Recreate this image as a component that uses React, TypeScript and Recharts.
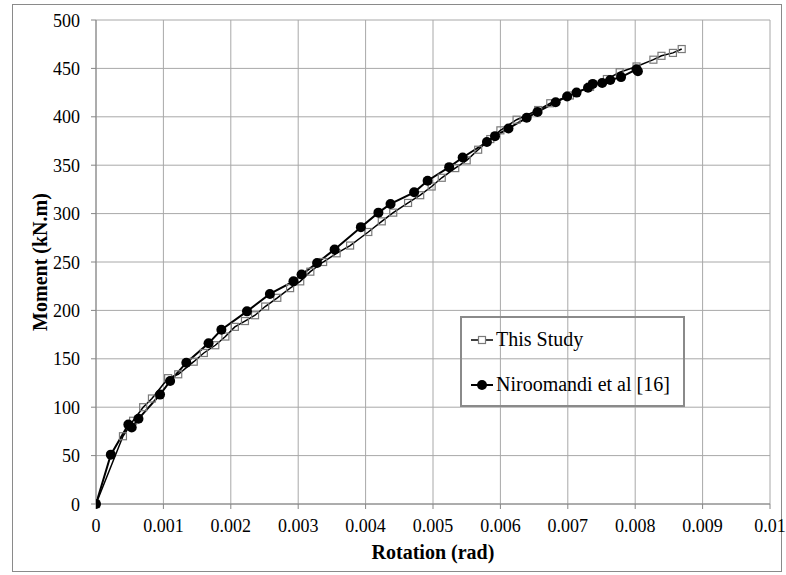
import React from "react";
import { LineChart, Line, XAxis, YAxis, CartesianGrid, Label } from "recharts";

// Moment-rotation curve, this study (open squares)
const studyRotation = [
  0, 0.0004, 0.00055, 0.0007, 0.00083, 0.00107, 0.00122, 0.00145, 0.0016, 0.00177,
  0.00192, 0.00206, 0.00221, 0.00236, 0.00251, 0.00269, 0.00288, 0.00303, 0.00318, 0.00337,
  0.00357, 0.00377, 0.00404, 0.00424, 0.00441, 0.00463, 0.00481, 0.00498, 0.00513, 0.00533,
  0.0055, 0.00567, 0.00585, 0.006, 0.00624, 0.00656, 0.00674, 0.00703, 0.00733, 0.00758,
  0.00777, 0.00802, 0.00827, 0.00839, 0.00856, 0.00869,
];
const studyMoment = [
  0, 70, 86, 100, 109, 130, 134, 147, 156, 164,
  173, 183, 189, 195, 204, 213, 223, 230, 240, 250,
  259, 267, 281, 292, 301, 311, 319, 328, 337, 347,
  355, 366, 377, 386, 397, 407, 414, 422, 431, 439,
  446, 452, 459, 463, 466, 470,
];

// Niroomandi et al [16] (filled circles)
const refRotation = [
  0, 0.00022, 0.00048, 0.00053, 0.00063, 0.00095, 0.0011, 0.00134, 0.00167, 0.00186,
  0.00224, 0.00258, 0.00293, 0.00305, 0.00328, 0.00354, 0.00393, 0.00419, 0.00437, 0.00472,
  0.00492, 0.00524, 0.00544, 0.0058, 0.00592, 0.00612, 0.00639, 0.00655, 0.00682, 0.00699,
  0.00713, 0.0073, 0.00737, 0.00751, 0.00763, 0.00779, 0.00802, 0.00804,
];
const refMoment = [
  0, 51, 82, 79, 88, 113, 127, 146, 166, 180,
  199, 217, 230, 237, 249, 263, 286, 301, 310, 322,
  334, 348, 358, 374, 380, 388, 399, 405, 415, 421,
  425, 430, 434, 435, 438, 441, 449, 447,
];

const xTicks = [0, 0.001, 0.002, 0.003, 0.004, 0.005, 0.006, 0.007, 0.008, 0.009, 0.01];
const yTicks = [0, 50, 100, 150, 200, 250, 300, 350, 400, 450, 500];

const studyData = studyRotation.map((r, i) => ({ rot: r, moment: studyMoment[i] }));
const refData = refRotation.map((r, i) => ({ rot: r, moment: refMoment[i] }));

const FONT = '"Liberation Serif", "Times New Roman", serif';
const AXIS = "#868686";

const SquareDot = (props: any) => {
  const { cx, cy, index } = props;
  if (cx == null || cy == null) return <g key={index} />;
  return (
    <rect key={index} x={cx - 3.5} y={cy - 3.5} width={7} height={7} fill="none" stroke="#7a7a7a" strokeWidth={1.2} />
  );
};

const XTick = (props: any) => {
  const { x, y, payload } = props;
  return (
    <text x={x} y={y + 13} textAnchor="middle" fontFamily={FONT} fontSize={18} fill="#000">
      {String(payload.value)}
    </text>
  );
};

const YTick = (props: any) => {
  const { x, y, payload } = props;
  return (
    <text x={x} y={y + 6.5} textAnchor="end" fontFamily={FONT} fontSize={18} fill="#000">
      {String(payload.value)}
    </text>
  );
};

const LegendBox = () => (
  <div
    style={{
      position: "absolute",
      left: 460,
      top: 316,
      width: 221,
      height: 87,
      border: "2px solid #8a8a8a",
      fontFamily: FONT,
      fontSize: 20,
      color: "#000",
    }}
  >
    <div style={{ position: "absolute", left: 8, top: 10, display: "flex", alignItems: "center" }}>
      <svg width={24} height={14}>
        <line x1={1} y1={7} x2={23} y2={7} stroke="#000" strokeWidth={1.5} />
        <rect x={8.5} y={3.5} width={7} height={7} fill="#fff" stroke="#7a7a7a" strokeWidth={1.2} />
      </svg>
      <span style={{ marginLeft: 2 }}>This Study</span>
    </div>
    <div style={{ position: "absolute", left: 8, top: 55, display: "flex", alignItems: "center" }}>
      <svg width={24} height={14}>
        <line x1={1} y1={7} x2={23} y2={7} stroke="#000" strokeWidth={2} />
        <circle cx={12} cy={7} r={5} fill="#000" />
      </svg>
      <span style={{ marginLeft: 2 }}>Niroomandi et al [16]</span>
    </div>
  </div>
);

export default function App() {
  return (
    <div style={{ position: "absolute", left: 0, top: 0, width: 786, height: 575, background: "#fff" }}>
      <div
        style={{
          position: "absolute",
          left: 12,
          top: 4,
          width: 768,
          height: 566,
          border: "1px solid #8a8a8a",
        }}
      />
      <LineChart
        width={786}
        height={575}
        margin={{ top: 20, right: 16, bottom: 41, left: 36 }}
        style={{ fontFamily: FONT }}
      >
        <CartesianGrid stroke="#a8a8a8" strokeWidth={1} />
        <XAxis
          type="number"
          dataKey="rot"
          domain={[0, 0.01]}
          ticks={xTicks}
          height={30}
          stroke={AXIS}
          tickSize={5}
          tickMargin={10}
          tick={<XTick />}
          allowDataOverflow
        >
          <Label
            content={() => (
              <text x={433} y={559} textAnchor="middle" fontFamily={FONT} fontSize={20} fontWeight="bold" fill="#000">
                Rotation (rad)
              </text>
            )}
          />
        </XAxis>
        <YAxis
          type="number"
          dataKey="moment"
          domain={[0, 500]}
          ticks={yTicks}
          width={60}
          stroke={AXIS}
          tickSize={5}
          tickMargin={11}
          tick={<YTick />}
        >
          <Label
            content={() => (
              <text
                x={40}
                y={262}
                transform="rotate(-90 40 262)"
                textAnchor="middle"
                dominantBaseline="central"
                fontFamily={FONT}
                fontSize={20}
                fontWeight="bold"
                fill="#000"
              >
                Moment (kN.m)
              </text>
            )}
          />
        </YAxis>
        <Line
          data={studyData}
          dataKey="moment"
          name="This Study"
          stroke="#000"
          strokeWidth={1.5}
          dot={SquareDot}
          isAnimationActive={false}
        />
        <Line
          data={refData}
          dataKey="moment"
          name="Niroomandi et al [16]"
          stroke="#000"
          strokeWidth={2}
          dot={{ r: 5, fill: "#000", stroke: "#000", strokeWidth: 0 }}
          isAnimationActive={false}
        />
      </LineChart>
      <LegendBox />
    </div>
  );
}
